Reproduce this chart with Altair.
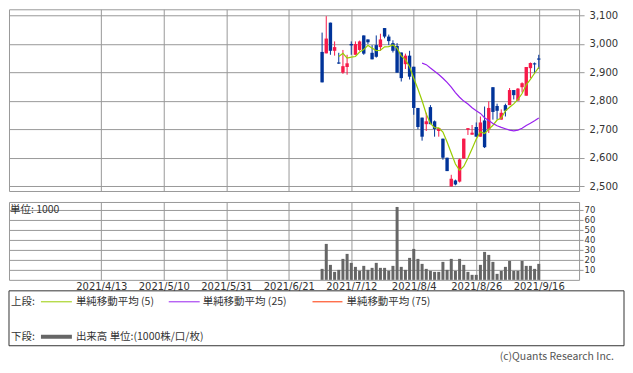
import altair as alt
import pandas as pd

# ---- data ----
first_day = 53  # trading-day index of the first candle (4/13 = 0)
opens = [2972, 2967, 3075, 2976, 2935, 2899, 2919, 3000, 2962, 2979,
         3030, 3016, 2969, 2996, 2989, 3056, 3026, 3003, 2993, 2970,
         2929, 2959, 2920, 2775, 2741, 2718, 2778, 2728, 2694, 2667,
         2600, 2499, 2520, 2516, 2597, 2698, 2681, 2708, 2674, 2731,
         2700, 2848, 2782, 2734, 2785, 2785, 2838, 2801, 2848, 2818,
         2915, 2932, 2949]
highs = [3040, 3098, 3075, 3009, 2969, 2979, 2962, 3009, 3009, 3012,
         3030, 3016, 2996, 3030, 3036, 3056, 3033, 3013, 3003, 2970,
         2966, 2976, 2920, 2775, 2741, 2758, 2785, 2731, 2704, 2667,
         2600, 2540, 2523, 2597, 2667, 2704, 2715, 2724, 2745, 2780,
         2798, 2848, 2790, 2770, 2790, 2845, 2838, 2845, 2865, 2919,
         2935, 2935, 2962]
lows = [2865, 2967, 2962, 2959, 2930, 2895, 2892, 2962, 2962, 2976,
        2962, 3000, 2946, 2952, 2976, 3020, 2996, 2970, 2899, 2868,
        2912, 2875, 2751, 2700, 2660, 2694, 2718, 2674, 2674, 2593,
        2553, 2499, 2503, 2513, 2597, 2680, 2681, 2674, 2674, 2634,
        2687, 2734, 2734, 2734, 2745, 2785, 2805, 2801, 2830, 2818,
        2880, 2895, 2912]
closes = [2865, 3019, 2976, 2989, 2931, 2922, 2932, 2995, 3000, 3009,
          2966, 3006, 2946, 2955, 3016, 3026, 3010, 2976, 2899, 2880,
          2959, 2885, 2775, 2708, 2674, 2728, 2718, 2701, 2704, 2600,
          2553, 2526, 2506, 2594, 2667, 2704, 2688, 2674, 2724, 2637,
          2775, 2761, 2765, 2758, 2765, 2838, 2820, 2843, 2862, 2919,
          2933, 2928, 2945]
volumes = [11, 36, 15, 8, 10, 21, 26, 17, 13, 9,
           14, 10, 12, 17, 12, 12, 9, 14, 73, 13,
           10, 22, 31, 21, 16, 11, 9, 8, 8, 18,
           10, 21, 9, 21, 15, 8, 5, 5, 15, 28,
           25, 18, 6, 9, 13, 19, 9, 9, 19, 14,
           14, 11, 16]
tick_days = [0, 15, 30, 45, 60, 75, 90, 105]
tick_labels = ["2021/4/13", "2021/5/10", "2021/5/31", "2021/6/21",
               "2021/7/12", "2021/8/4", "2021/8/26", "2021/9/16"]
price_ticks = [2500, 2600, 2700, 2800, 2900, 3000, 3100]
volume_ticks = [10, 20, 30, 40, 50, 60, 70]
legend_labels = ["単純移動平均 (5)", "単純移動平均 (25)", "単純移動平均 (75)"]
volume_legend_label = "出来高 単位:(1000株/口/枚)"
row_labels = ["上段:", "下段:"]
unit_label = "単位: 1000"
copyright_label = "(c)Quants Research Inc."

# ---- styles ----
RED = "#f71a4a"
BLUE = "#003399"
MA5_COLOR = "#99cc00"
MA25_COLOR = "#9922ee"
MA75_COLOR = "#ff3300"
VOL_COLOR = "#666666"
GRID = "#999999"
TEXT = "#333333"
FONT = "DejaVu Sans"
CJK = "Noto Sans CJK JP"

df = pd.DataFrame({
    "day": list(range(first_day, first_day + len(closes))),
    "open": opens, "high": highs, "low": lows, "close": closes,
    "volume": volumes,
})
df["dir"] = ["up" if c >= o else "down" for o, c in zip(opens, closes)]

label_array = "[" + ",".join("'%s'" % s for s in tick_labels) + "]"
x_scale = alt.Scale(domain=[-20.95, 113.48], nice=False, zero=False)
color = alt.Color("dir:N", scale=alt.Scale(domain=["up", "down"], range=[RED, BLUE]), legend=None)

# ---------- upper panel (price) ----------
x_up = alt.X("day:Q", scale=x_scale, title=None,
             axis=alt.Axis(values=tick_days, labels=False, ticks=False, domain=False,
                           grid=True, gridColor=GRID))
p_scale = alt.Scale(domain=[2483, 3122], nice=False, zero=False)
p_axis = alt.Axis(orient="right", values=price_ticks, format=",.0f", grid=True, gridColor=GRID,
                  domain=False, tickColor=GRID, tickSize=5, labelPadding=5,
                  labelFont=FONT, labelFontSize=10, labelColor=TEXT)

base = alt.Chart(df)
wicks = base.mark_rule(strokeWidth=1).encode(
    x=x_up, y=alt.Y("low:Q", scale=p_scale, axis=p_axis, title=None), y2="high:Q", color=color)
bodies = base.mark_bar(size=3.4).encode(
    x=x_up, y=alt.Y("open:Q", scale=p_scale, axis=p_axis, title=None), y2="close:Q", color=color)


def ma_line(n, col):
    return base.transform_window(
        ma="mean(close)", cnt="count()", frame=[-(n - 1), 0], sort=[{"field": "day"}]
    ).transform_filter(alt.datum.cnt >= n).mark_line(color=col, strokeWidth=1.2).encode(
        x=x_up, y=alt.Y("ma:Q", scale=p_scale, axis=p_axis, title=None))


upper = alt.layer(wicks, bodies, ma_line(5, MA5_COLOR), ma_line(25, MA25_COLOR)).properties(
    width=571, height=182)

# ---------- lower panel (volume + legend box) ----------
x_low = alt.X("day:Q", scale=x_scale, title=None,
              axis=alt.Axis(values=tick_days, labelExpr=label_array + "[round(datum.value/15)]",
                            ticks=False, domain=False, grid=True, gridColor=GRID,
                            labelPadding=2, labelFont=FONT, labelFontSize=10, labelColor=TEXT,
                            labelFlush=False, labelOverlap=False))
v_axis = alt.Axis(orient="right", values=volume_ticks, grid=True, gridColor=GRID, domain=False,
                  tickColor=GRID, tickSize=4, labelPadding=1, labelFont=FONT,
                  labelFontSize=8.5, labelColor=TEXT)
vol_bars = base.mark_bar(size=3, color=VOL_COLOR).encode(
    x=x_low, y=alt.Y("volume:Q", scale=alt.Scale(domain=[0, 78], nice=False), axis=v_axis, title=None))

one = alt.Chart(pd.DataFrame({"k": [0]}))


def txt(s, x, y, size=10.5, font=CJK, align="left", col=TEXT):
    return one.mark_text(text=s, align=align, baseline="middle", font=font, fontSize=size,
                         color=col).encode(x=alt.value(x), y=alt.value(y))


def seg(x1, x2, y, col, w=1):
    return one.mark_rule(color=col, strokeWidth=w).encode(
        x=alt.value(x1), x2=alt.value(x2), y=alt.value(y))


box = one.mark_rect(fillOpacity=0, stroke="#333333", strokeWidth=1).encode(
    x=alt.value(0), x2=alt.value(616), y=alt.value(89), y2=alt.value(144))

r1, r2 = 100, 135
legend_layers = [
    box,
    txt(unit_label, 1, 8),
    txt(row_labels[0], 2, r1),
    seg(32, 63, r1, MA5_COLOR), txt(legend_labels[0], 67, r1),
    seg(160, 191, r1, MA25_COLOR), txt(legend_labels[1], 194, r1),
    seg(304, 334, r1, MA75_COLOR), txt(legend_labels[2], 338, r1),
    txt(row_labels[1], 2, r2),
    seg(32, 63, r2, VOL_COLOR, 4), txt(volume_legend_label, 67, r2),
    txt(copyright_label, 606, 155, size=10.5, align="right", col="#555555"),
]

lower = alt.layer(vol_bars, *legend_layers).properties(width=571, height=78)

chart = alt.vconcat(upper, lower, spacing=9).properties(padding=0).configure_view(
    stroke=GRID, strokeWidth=1)

chart.save("out.html", embed_options={"renderer": "svg", "actions": False})
